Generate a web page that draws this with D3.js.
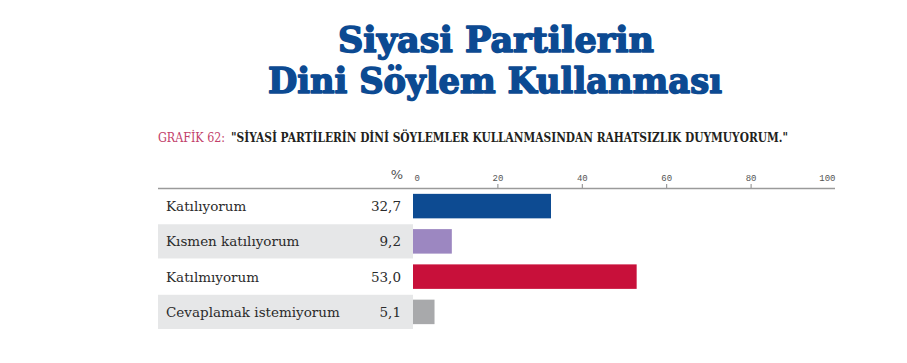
<!DOCTYPE html>
<html>
<head>
<meta charset="utf-8">
<script src="https://cdn.jsdelivr.net/npm/d3@7"></script>
<style>
  body { margin: 0; background: #fff; }
  svg { display: block; }
</style>
</head>
<body>
<div id="chart"></div>
<script>
'use strict';

// data
var categories = ["Katılıyorum", "Kısmen katılıyorum", "Katılmıyorum", "Cevaplamak istemiyorum"];
var values = [32.7, 9.2, 53.0, 5.1];
var valueLabels = ["32,7", "9,2", "53,0", "5,1"];
var barColors = ["#0d4b92", "#9c87c1", "#c8103a", "#a8a9ab"];
var tickValues = [0, 20, 40, 60, 80, 100];

var width = 907, height = 363;

var svg = d3.select("#chart").
	append("svg").
	attr("width", width).
	attr("height", height);

// title (stroke thickens the bold face towards the black slab of the original)
var title = svg.append("g").
	attr("font-family", "'DejaVu Serif', serif").
	attr("font-weight", "bold").
	attr("font-size", 36).
	attr("fill", "#0c4a92").
	attr("stroke", "#0c4a92").
	attr("stroke-width", 1.6).
	attr("stroke-linejoin", "round").
	attr("text-anchor", "middle");

title.append("text").
	attr("x", 496).attr("y", 52).
	attr("textLength", 316).attr("lengthAdjust", "spacingAndGlyphs").
	text("Siyasi Partilerin");

title.append("text").
	attr("x", 495).attr("y", 93).
	attr("textLength", 454).attr("lengthAdjust", "spacingAndGlyphs").
	text("Dini Söylem Kullanması");

// subtitle
svg.append("text").
	attr("x", 158).attr("y", 142).
	attr("font-family", "'DejaVu Serif', serif").
	attr("font-stretch", "condensed").
	attr("font-size", 13).
	attr("fill", "#c2406a").
	attr("textLength", 67).attr("lengthAdjust", "spacingAndGlyphs").
	text("GRAFİK 62:");

svg.append("text").
	attr("x", 231).attr("y", 142).
	attr("font-family", "'DejaVu Serif', serif").
	attr("font-stretch", "condensed").
	attr("font-weight", "bold").
	attr("font-size", 12).
	attr("fill", "#231f20").
	attr("textLength", 557).attr("lengthAdjust", "spacingAndGlyphs").
	text("\"SİYASİ PARTİLERİN DİNİ SÖYLEMLER KULLANMASINDAN RAHATSIZLIK DUYMUYORUM.\"");

// scales
var x = d3.scaleLinear().domain([0, 100]).range([413, 835]);
var y = d3.scaleBand().domain(categories).range([189, 329]).paddingInner(0.03).paddingOuter(0);

// percent sign
svg.append("text").
	attr("x", 397).attr("y", 179).
	attr("text-anchor", "middle").
	attr("font-family", "'DejaVu Sans', sans-serif").
	attr("font-size", 13).
	attr("fill", "#555").
	text("%");

// axis
var axis = svg.append("g").
	attr("transform", "translate(0,188)").
	call(d3.axisTop(x).tickValues(tickValues).tickSize(4).tickPadding(3));

axis.select(".domain").remove();
axis.selectAll(".tick line").
	attr("stroke", "#888").
	attr("display", function(d) { return (d === 0 || d === 100) ? "none" : null; });
axis.selectAll(".tick text").
	attr("font-family", "'Liberation Mono', monospace").
	attr("font-size", 9).
	attr("fill", "#555").
	attr("text-anchor", function(d) {
		if (d === 0) return "start";
		if (d === 100) return "end";
		return "middle";
	}).
	attr("dx", function(d) { return d === 0 ? 1 : 0; });

svg.append("line").
	attr("x1", 158).attr("x2", x(100)).
	attr("y1", 188.5).attr("y2", 188.5).
	attr("stroke", "#9a9a9a").
	attr("stroke-width", 1.3);

// alternate row backgrounds
svg.selectAll("rect.band").
	data(categories.filter(function(d, i) { return i % 2 === 1; })).
	enter().append("rect").
	attr("class", "band").
	attr("x", 158).
	attr("y", function(d) { return y(d); }).
	attr("width", x(0) - 158).
	attr("height", y.bandwidth()).
	attr("fill", "#e6e7e8");

// bars
var barH = 24.5;
svg.selectAll("rect.bar").
	data(values).
	enter().append("rect").
	attr("class", "bar").
	attr("x", x(0)).
	attr("y", function(d, i) { return y(categories[i]) + (y.bandwidth() - barH) / 2; }).
	attr("width", function(d) { return x(d) - x(0); }).
	attr("height", barH).
	attr("fill", function(d, i) { return barColors[i]; });

// category labels
svg.selectAll("text.cat").
	data(categories).
	enter().append("text").
	attr("class", "cat").
	attr("x", 166).
	attr("y", function(d) { return y(d) + y.bandwidth() / 2 + 5; }).
	attr("font-family", "'DejaVu Serif', serif").
	attr("font-size", 13.5).
	attr("fill", "#2b2b2b").
	text(function(d) { return d; });

// value labels
svg.selectAll("text.val").
	data(valueLabels).
	enter().append("text").
	attr("class", "val").
	attr("x", 401).
	attr("y", function(d, i) { return y(categories[i]) + y.bandwidth() / 2 + 5; }).
	attr("text-anchor", "end").
	attr("font-family", "'DejaVu Serif', serif").
	attr("font-size", 13.5).
	attr("fill", "#2b2b2b").
	text(function(d) { return d; });
</script>
</body>
</html>
